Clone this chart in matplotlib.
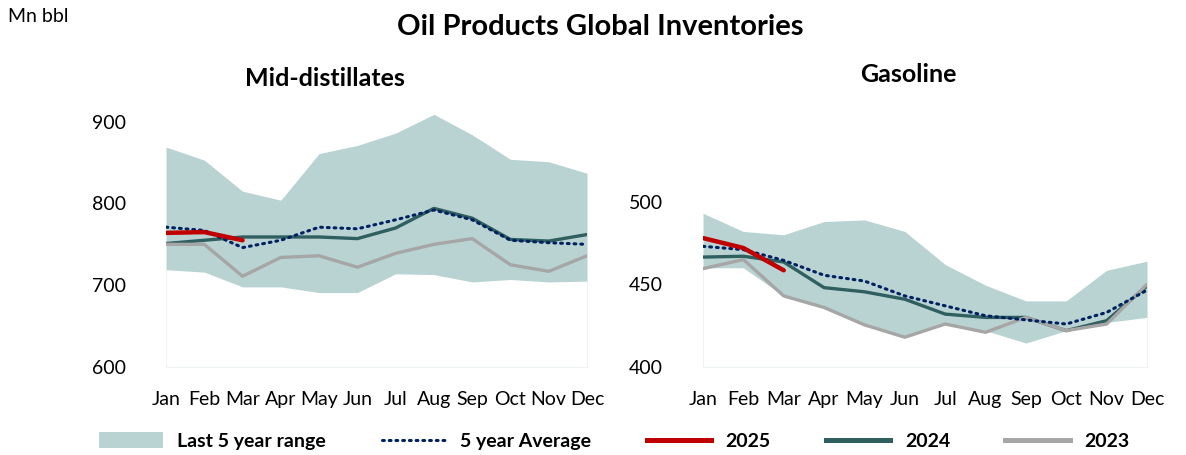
import matplotlib
matplotlib.use("Agg")
import matplotlib.pyplot as plt
from matplotlib.patches import Patch
from matplotlib.lines import Line2D

plt.rcParams['font.family'] = ['Lato', 'DejaVu Sans']

months = ["Jan", "Feb", "Mar", "Apr", "May", "Jun", "Jul", "Aug", "Sep", "Oct", "Nov", "Dec"]

# Mid-distillates
md_max = [869, 853, 815, 804, 861, 871, 886, 909, 884, 854, 851, 837]
md_min = [719, 716, 698, 698, 691, 691, 714, 713, 704, 707, 704, 705]
md_avg = [771, 767, 746, 755, 771, 769, 780, 792, 780, 755, 752, 750]
md_2025 = [764, 765, 755]
md_2024 = [751, 755, 759, 759, 759, 757, 770, 794, 782, 756, 754, 762]
md_2023 = [750, 750, 711, 734, 736, 722, 739, 750, 757, 725, 717, 736]

# Gasoline
gs_max = [493, 482, 480, 488, 489, 482, 462, 449.5, 440, 440, 458.5, 464]
gs_min = [460, 460, 443, 436, 426, 418, 426, 422, 414.5, 422, 427, 430]
gs_avg = [473, 471, 464.5, 455.5, 452, 443, 437, 431, 428.5, 426, 433, 446.5]
gs_2025 = [478, 472, 458.5]
gs_2024 = [466.5, 467, 463.5, 448, 445.5, 441, 432, 430, 430, 422, 428, 449]
gs_2023 = [459.5, 465, 443, 436, 425.5, 418, 426, 421, 430, 422, 426, 450]

C_BAND = "#b9d3d3"
C_AVG = "#002060"
C_25 = "#c00000"
C_24 = "#2f5f5f"
C_23 = "#a6a6a6"

W, H = 1186, 455
fig = plt.figure(figsize=(W / 100, H / 100), dpi=100)

def px_axes(x0, x1, ytop, ybot):
    return fig.add_axes([x0 / W, 1 - ybot / H, (x1 - x0) / W, (ybot - ytop) / H])

# left: 600 at y=367, 900 at y=121.7 -> 0.8177 px/unit; top at 920
ax1 = px_axes(166, 587, 367 - 320 * 0.8177, 367)
# right: 400 at y=367, 500 at y=201.7 -> 1.653 px/unit; top at 510
ax2 = px_axes(703, 1147, 367 - 110 * 1.653, 367)

def draw(ax, mx, mn, avg, y25, y24, y23, ylim, yticks):
    x = list(range(len(months)))
    ax.fill_between(x, mn, mx, color=C_BAND, linewidth=0, zorder=1)
    ax.plot(x[:len(y24)], y24, color=C_24, lw=2.4, zorder=2, solid_capstyle='round')
    ax.plot(x[:len(y23)], y23, color=C_23, lw=2.4, zorder=3, solid_capstyle='round')
    ax.plot(x[:len(avg)], avg, color=C_AVG, lw=2.2, ls=(0, (0.6, 1.6)), zorder=4,
            dash_capstyle='round')
    ax.plot(x[:len(y25)], y25, color=C_25, lw=3.2, zorder=5, solid_capstyle='round')
    ax.set_xlim(0, len(months) - 1)
    ax.set_ylim(*ylim)
    ax.set_yticks(yticks)
    ax.set_yticklabels([str(v) for v in yticks])
    ax.set_xticks(x)
    ax.set_xticklabels(months)
    ax.tick_params(length=0, labelsize=14, colors="#000000")
    ax.tick_params(axis='y', pad=29)
    ax.tick_params(axis='x', pad=17)
    for k, s in ax.spines.items():
        if k == 'top':
            s.set_visible(False)
        else:
            s.set_color("#eef3f3")
            s.set_linewidth(0.8)
            s.set_zorder(0)
    ax.spines['left'].set_bounds(ylim[0], mn[0])
    ax.spines['right'].set_bounds(ylim[0], mn[-1])
    ax.patch.set_alpha(0)

draw(ax1, md_max, md_min, md_avg, md_2025, md_2024, md_2023, (600, 920), [600, 700, 800, 900])
draw(ax2, gs_max, gs_min, gs_avg, gs_2025, gs_2024, gs_2023, (400, 510), [400, 450, 500])

fig.text(600 / W, 1 - 27 / H, "Oil Products Global Inventories", ha="center", va="center",
         fontsize=21, fontweight="bold")
fig.text(8 / W, 1 - 17 / H, "Mn bbl", ha="left", va="center", fontsize=14)
fig.text(325 / W, 1 - 78 / H, "Mid-distillates", ha="center", va="center", fontsize=18, fontweight="bold")
fig.text(908 / W, 1 - 75 / H, "Gasoline", ha="center", va="center", fontsize=18, fontweight="bold")

handles = [
    Patch(facecolor=C_BAND, edgecolor="none"),
    Line2D([], [], color=C_AVG, lw=2.2, ls=(0, (0.6, 1.6)), dash_capstyle='round'),
    Line2D([], [], color=C_25, lw=3.6),
    Line2D([], [], color=C_24, lw=3.6),
    Line2D([], [], color=C_23, lw=3.6),
]
labels = ["Last 5 year range", "5 year Average", "2025", "2024", "2023"]
fig.legend(handles, labels, loc="center", bbox_to_anchor=(614 / W, 1 - 441 / H), ncol=5,
           frameon=False, handlelength=3.3, handleheight=0.9, handletextpad=0.75, columnspacing=2.85,
           prop={"weight": "bold", "size": 14})

fig.savefig("out.png", dpi=100)
